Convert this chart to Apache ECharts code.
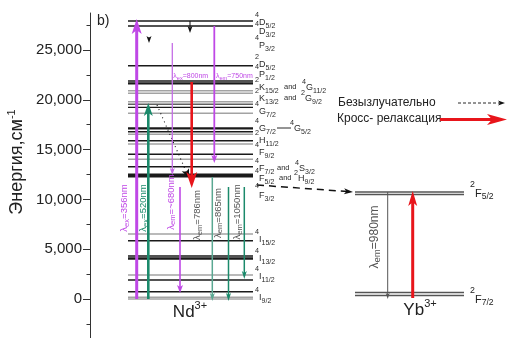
<!DOCTYPE html>
<html><head><meta charset="utf-8">
<script src="https://cdn.jsdelivr.net/npm/echarts@6/dist/echarts.min.js"></script>
<style>html,body{margin:0;padding:0;background:#fff}#c{width:508px;height:338px}</style>
</head><body><div id="c"></div>
<script>
// ================= DATA =================
const yTickValues = [0, 5000, 10000, 15000, 20000, 25000];
const yMinorTickValues = [-2500, 2500, 7500, 12500, 17500, 22500, 27500];
const yTitle = 'Энергия,см';
const yTitleSup = '-1';

// Nd3+ energy levels (cm-1, as drawn)
const ndLevels = [27912, 27410, 23424, 21888, 21657, 20914, 20653, 19809, 19548, 19247,
  18645, 17139, 16797, 16536, 15894, 15562, 14528, 14026, 13283, 12400,
  6526, 5853, 4317, 4066, 2410, 1908, 733, 171, 0];
// Yb3+ energy levels (double lines)
const ybLevels = [10743, 10492, 653, 351];

// term labels and the energy at which each is written
const ndTerms = ['4D5/2', '4D3/2', '4P3/2', '2D5/2', '4P1/2', '2K15/2 and 4G11/2',
  '2K13/2 and 2G9/2', '4G7/2', '4G7/2—4G5/2', '2H11/2', '4F9/2', '4F7/2 and 4S3/2',
  '4F5/2 and 2H9/2', '4F3/2', '4I15/2', '4I13/2', '4I11/2', '4I9/2'];
const ndTermEnergy = [27711, 26807, 25402, 23494, 22490, 21185, 20080, 18775, 17068,
  15863, 14659, 13052, 12048, 10341, 5924, 4016, 2209, 100];
const ybTerms = ['2F5/2', '2F7/2'];
const ybTermEnergy = [10542, -100];

// radiative transitions
const arrowNames = ['λex=356nm', 'λex=520nm', 'λex=800nm', 'λem=~680nm', '', 'λem=750nm',
  'λem=786nm', 'λem=865nm', 'λem=1050nm', '', 'λem=980nm'];
const arrowFrom = [0, 0, 25700, 11245, 21787, 27410, 12250, 11245, 11245, 100, 10743];
const arrowTo = [28112, 19679, 12450, 600, 11145, 13655, -200, -200, 2008, 10843, 0];
const arrowLabelEnergy = [9137, 9137, 22390, 9739, 0, 22390, 8434, 8635, 8735, 0, 6225];

// non-radiative transitions
const nrFromE = [11446, 19478, 27912, 26300];
const nrToE = [10743, 12149, 26707, 25700];

const ions = ['Nd', 'Yb'];
const ionCharge = '3+';
const ionLabelEnergy = [-1305, -1104];
const legendTexts = ['Безызлучательно', 'Кросс- релаксация'];
const panelTag = 'b)';

// ================= LAYOUT / STYLE =================
const FONT = 'Liberation Sans, Arial, sans-serif';
const VIOLET = '#bf48e6', VIOLET_L = '#c56ee6', GREEN = '#1b8a6b', GREEN_L = '#5aa892', RED = '#e8151b';
const K = '#1a1a1a', G = '#a3a3a3', DG = '#606060';
const ndLevelStyle = [
  [K,1.6],[K,1.6],[K,1.4],[K,1.6],[K,2.2],[G,1.6],[G,1.6],[G,1.4],[DG,1.4],[K,1.2],
  [G,1.6],[K,2.2],[K,1.4],[G,1.4],[K,1.4],[G,1.4],[K,1.4],[G,1.4],[K,1.4],[K,4.2],
  [G,1.4],[K,1.4],[K,1.4],[K,2.6],[G,1.6],[K,1.4],[K,1.4],[G,1.6],[G,1.6]];
const ndX = [128, 253], ybX = [355, 464];
const arrowX = [136.7, 148.3, 172.3, 180, 191.7, 214.3, 212.3, 228.5, 244.3, 412.7, 387.7];
const arrowStyle = [
  {c: VIOLET, w: 3, hl: 15, hw: 10},
  {c: GREEN, w: 2.6, hl: 13, hw: 9},
  {c: VIOLET_L, w: 1.3, hl: 7, hw: 5},
  {c: VIOLET, w: 1.6, hl: 8, hw: 6},
  {c: RED, w: 2.6, hl: 16, hw: 11},
  {c: VIOLET, w: 1.8, hl: 8, hw: 6},
  {c: GREEN_L, w: 1.5, hl: 8, hw: 5},
  {c: GREEN, w: 1.5, hl: 8, hw: 5},
  {c: GREEN, w: 1.5, hl: 8, hw: 5},
  {c: RED, w: 3, hl: 15, hw: 9},
  {c: '#555', w: 1, hl: 6, hw: 4}
];
const arrowLabelDx = [-12, -5, 1, -9, 0, 1.7, -15, -10.5, -7, 0, -12.7];
const arrowLabelRot = [1, 1, 0, 1, 0, 0, 1, 1, 1, 0, 1];
const arrowLabelColor = [VIOLET, GREEN, VIOLET, VIOLET, '', VIOLET, '#555', '#555', '#555', '', '#555'];
const nrFromX = [257, 157, 190, 149], nrToX = [353, 189, 190, 149];
const nrStyle = [
  {w: 1.5, dash: [7, 5], hl: 9, hw: 6},
  {w: 1.1, dash: [1, 3.5], hl: 9, hw: 8},
  {w: 1, dash: null, hl: 7, hw: 5},
  {w: 1, dash: null, hl: 7, hw: 5}
];
const termX = 255;
const termExtra = { // x positions of second term & connector
  5: {conn: 'and', cx: 284, tx: 302},
  6: {conn: 'and', cx: 284, tx: 301},
  8: {conn: '—', cx: 277, tx: 290},
  11: {conn: 'and', cx: 277, tx: 295},
  12: {conn: 'and', cx: 279, tx: 294}
};
const ionX = [190, 420];

// ================= HELPERS =================
function arrowEls(p1, p2, color, lw, hl, hw, dash) {
  const dx = p2[0] - p1[0], dy = p2[1] - p1[1];
  const len = Math.hypot(dx, dy) || 1;
  const ux = dx / len, uy = dy / len, nx = -uy, ny = ux;
  const bx = p2[0] - ux * hl, by = p2[1] - uy * hl;
  const ex = p2[0] - ux * hl * 0.6, ey = p2[1] - uy * hl * 0.6;
  return [
    {type: 'line', shape: {x1: p1[0], y1: p1[1], x2: ex, y2: ey},
      style: {stroke: color, lineWidth: lw, lineDash: dash || null}},
    {type: 'polygon', shape: {points: [[p2[0], p2[1]], [bx + nx * hw / 2, by + ny * hw / 2],
      [p2[0] - ux * hl * 0.75, p2[1] - uy * hl * 0.75], [bx - nx * hw / 2, by - ny * hw / 2]]},
      style: {fill: color}}
  ];
}
function termEls(x, yc, term, fs, color, supDy) {
  const sup = term[0], L = term[1], J = term.slice(2);
  return [
    {type: 'text', x: x, y: yc - (supDy || 8), style: {text: sup, fontSize: fs * 0.8, fontFamily: FONT,
      fill: color, align: 'left', verticalAlign: 'middle'}},
    {type: 'text', x: x + fs * 0.45, y: yc, style: {text: '{m|' + L + '}{j|' + J + '}', align: 'left',
      verticalAlign: 'middle', rich: {
        m: {fontSize: fs, fontFamily: FONT, fill: color, lineHeight: fs + 4, verticalAlign: 'middle'},
        j: {fontSize: fs * 0.78, fontFamily: FONT, fill: color, verticalAlign: 'bottom'}}}}
  ];
}
function lambdaRich(name, fs, color) {
  const m = name.match(/^λ(ex|em)(.*)$/);
  return {text: '{l|λ}{s|' + m[1] + '}{l|' + m[2] + '}', rich: {
    l: {fontSize: fs, fontFamily: FONT, fill: color, lineHeight: fs + 3, verticalAlign: 'middle'},
    s: {fontSize: fs * 0.8, fontFamily: FONT, fill: color, verticalAlign: 'bottom'}}};
}

// ================= CHART =================
const chart = echarts.init(document.getElementById('c'), null, {renderer: 'canvas'});
const yMin = -3916, yMax = 28715;

const levelData = ndLevels.map((e, i) => [ndX[0], ndX[1], e, i, 0])
  .concat(ybLevels.map((e, i) => [ybX[0], ybX[1], e, i, 1]));
const arrowData = arrowFrom.map((f, i) => [arrowX[i], f, arrowTo[i], i]);
const nrData = nrFromE.map((f, i) => [nrFromX[i], f, nrToX[i], nrToE[i], i]);
const termData = ndTerms.map((t, i) => [termX, ndTermEnergy[i], i, 0])
  .concat(ybTerms.map((t, i) => [470, ybTermEnergy[i], i, 1]));
const ionData = ions.map((n, i) => [ionX[i], ionLabelEnergy[i], i]);

const option = {
  animation: false,
  grid: {left: 90, right: 0, top: 13, bottom: 0},
  xAxis: {type: 'value', min: 90, max: 508, show: false},
  yAxis: [{
    type: 'value', min: yMin, max: yMax, position: 'left',
    axisLine: {show: true, lineStyle: {color: '#333', width: 1}},
    axisTick: {show: true, length: 7, lineStyle: {color: '#333'}, customValues: yTickValues},
    axisLabel: {show: true, customValues: yTickValues, margin: 8, fontSize: 15, fontFamily: FONT, color: '#222',
      formatter: v => v.toLocaleString('en-US')},
    splitLine: {show: false}
  }, {
    type: 'value', min: yMin, max: yMax, position: 'left',
    axisLine: {show: false},
    axisTick: {show: true, length: 3.5, lineStyle: {color: '#333'}, customValues: yMinorTickValues},
    axisLabel: {show: false}, splitLine: {show: false}
  }],
  graphic: [
    {type: 'text', x: 17, y: 162, rotation: Math.PI / 2, style: {
      text: '{t|' + yTitle + '}{s|' + yTitleSup + '}', align: 'center', verticalAlign: 'middle',
      rich: {t: {fontSize: 18, fontFamily: FONT, fill: '#222', lineHeight: 22, verticalAlign: 'middle'},
             s: {fontSize: 11, fontFamily: FONT, fill: '#222', verticalAlign: 'top'}}}},
    {type: 'text', x: 97, y: 21, style: {text: panelTag, fontSize: 14, fontFamily: FONT, fill: '#222', verticalAlign: 'middle'}},
    {type: 'text', x: 338, y: 103, style: {text: legendTexts[0], fontSize: 12, fontFamily: FONT, fill: '#222', verticalAlign: 'middle'}},
    {type: 'text', x: 337, y: 119, style: {text: legendTexts[1], fontSize: 12, fontFamily: FONT, fill: '#222', verticalAlign: 'middle'}},
    {type: 'group', children: arrowEls([458, 103], [505, 103], '#111', 0.9, 7, 5, [3, 2])},
    {type: 'group', children: arrowEls([440, 119.5], [507, 119.5], RED, 3, 20, 11)}
  ],
  series: [
    { // energy levels
      type: 'custom', coordinateSystem: 'cartesian2d', data: levelData, encode: {x: 0, y: 2}, silent: true,
      renderItem: (p, api) => {
        const a = api.coord([api.value(0), api.value(2)]);
        const b = api.coord([api.value(1), api.value(2)]);
        const yb = api.value(4) === 1;
        const st = yb ? ['#555', 1.5] : ndLevelStyle[api.value(3)];
        return {type: 'line', shape: {x1: a[0], y1: a[1], x2: b[0], y2: b[1]}, style: {stroke: st[0], lineWidth: st[1]}};
      }
    },
    { // non-radiative
      type: 'custom', coordinateSystem: 'cartesian2d', data: nrData, encode: {x: 0, y: 1}, silent: true,
      renderItem: (p, api) => {
        const i = api.value(4), st = nrStyle[i];
        const a = api.coord([api.value(0), api.value(1)]);
        const b = api.coord([api.value(2), api.value(3)]);
        return {type: 'group', children: arrowEls(a, b, '#111', st.w, st.hl, st.hw, st.dash)};
      }
    },
    { // radiative arrows + labels
      type: 'custom', coordinateSystem: 'cartesian2d', data: arrowData, encode: {x: 0, y: 1}, silent: true,
      renderItem: (p, api) => {
        const i = api.value(3), st = arrowStyle[i], x = api.value(0);
        const a = api.coord([x, api.value(1)]);
        const b = api.coord([x, api.value(2)]);
        const els = arrowEls(a, b, st.c, st.w, st.hl, st.hw);
        if (arrowNames[i]) {
          const c = api.coord([x, arrowLabelEnergy[i]]);
          const rot = arrowLabelRot[i] === 1;
          const r = lambdaRich(arrowNames[i], rot ? (i === 10 ? 12 : 9.5) : 7, arrowLabelColor[i]);
          els.push({type: 'text', x: c[0] + arrowLabelDx[i], y: c[1], rotation: rot ? Math.PI / 2 : 0,
            style: {text: r.text, rich: r.rich, align: rot ? 'center' : 'left', verticalAlign: 'middle'}});
        }
        return {type: 'group', children: els};
      }
    },
    { // term labels
      type: 'custom', coordinateSystem: 'cartesian2d', data: termData, encode: {x: 0, y: 1}, silent: true,
      renderItem: (p, api) => {
        const i = api.value(2), yb = api.value(3) === 1;
        const c = api.coord([api.value(0), api.value(1)]);
        if (yb) return {type: 'group', children: termEls(c[0], c[1], ybTerms[i], 11, '#222', 9)};
        const txt = ndTerms[i];
        const ex = termExtra[i];
        const color = '#2a2a2a';
        if (!ex) return {type: 'group', children: termEls(c[0], c[1], txt, 9, color, i === 13 ? 10 : 8)};
        const parts = txt.split(ex.conn === 'and' ? ' and ' : '—');
        const mx = api.coord([ex.cx, 0])[0], tx = api.coord([ex.tx, 0])[0];
        const children = termEls(c[0], c[1], parts[0], 9, color, 8)
          .concat(termEls(tx, c[1], parts[1], 9, color, 6));
        if (ex.conn === 'and') {
          children.push({type: 'text', x: mx, y: c[1] - 1, style: {text: 'and', fontSize: 7.5, fontFamily: FONT,
            fill: color, align: 'left', verticalAlign: 'middle'}});
        } else {
          children.push({type: 'line', shape: {x1: mx, y1: c[1] - 1, x2: mx + 14, y2: c[1] - 1}, style: {stroke: color, lineWidth: 1}});
        }
        return {type: 'group', children};
      }
    },
    { // ion labels
      type: 'custom', coordinateSystem: 'cartesian2d', data: ionData, encode: {x: 0, y: 1}, silent: true,
      renderItem: (p, api) => {
        const i = api.value(2);
        const c = api.coord([api.value(0), api.value(1)]);
        return {type: 'text', x: c[0], y: c[1], style: {text: '{m|' + ions[i] + '}{s|' + ionCharge + '}',
          align: 'center', verticalAlign: 'middle', rich: {
            m: {fontSize: 17, fontFamily: FONT, fill: '#222', lineHeight: 24, verticalAlign: 'middle'},
            s: {fontSize: 11, fontFamily: FONT, fill: '#222', verticalAlign: 'top'}}}};
      }
    }
  ]
};
chart.setOption(option);
</script></body></html>
